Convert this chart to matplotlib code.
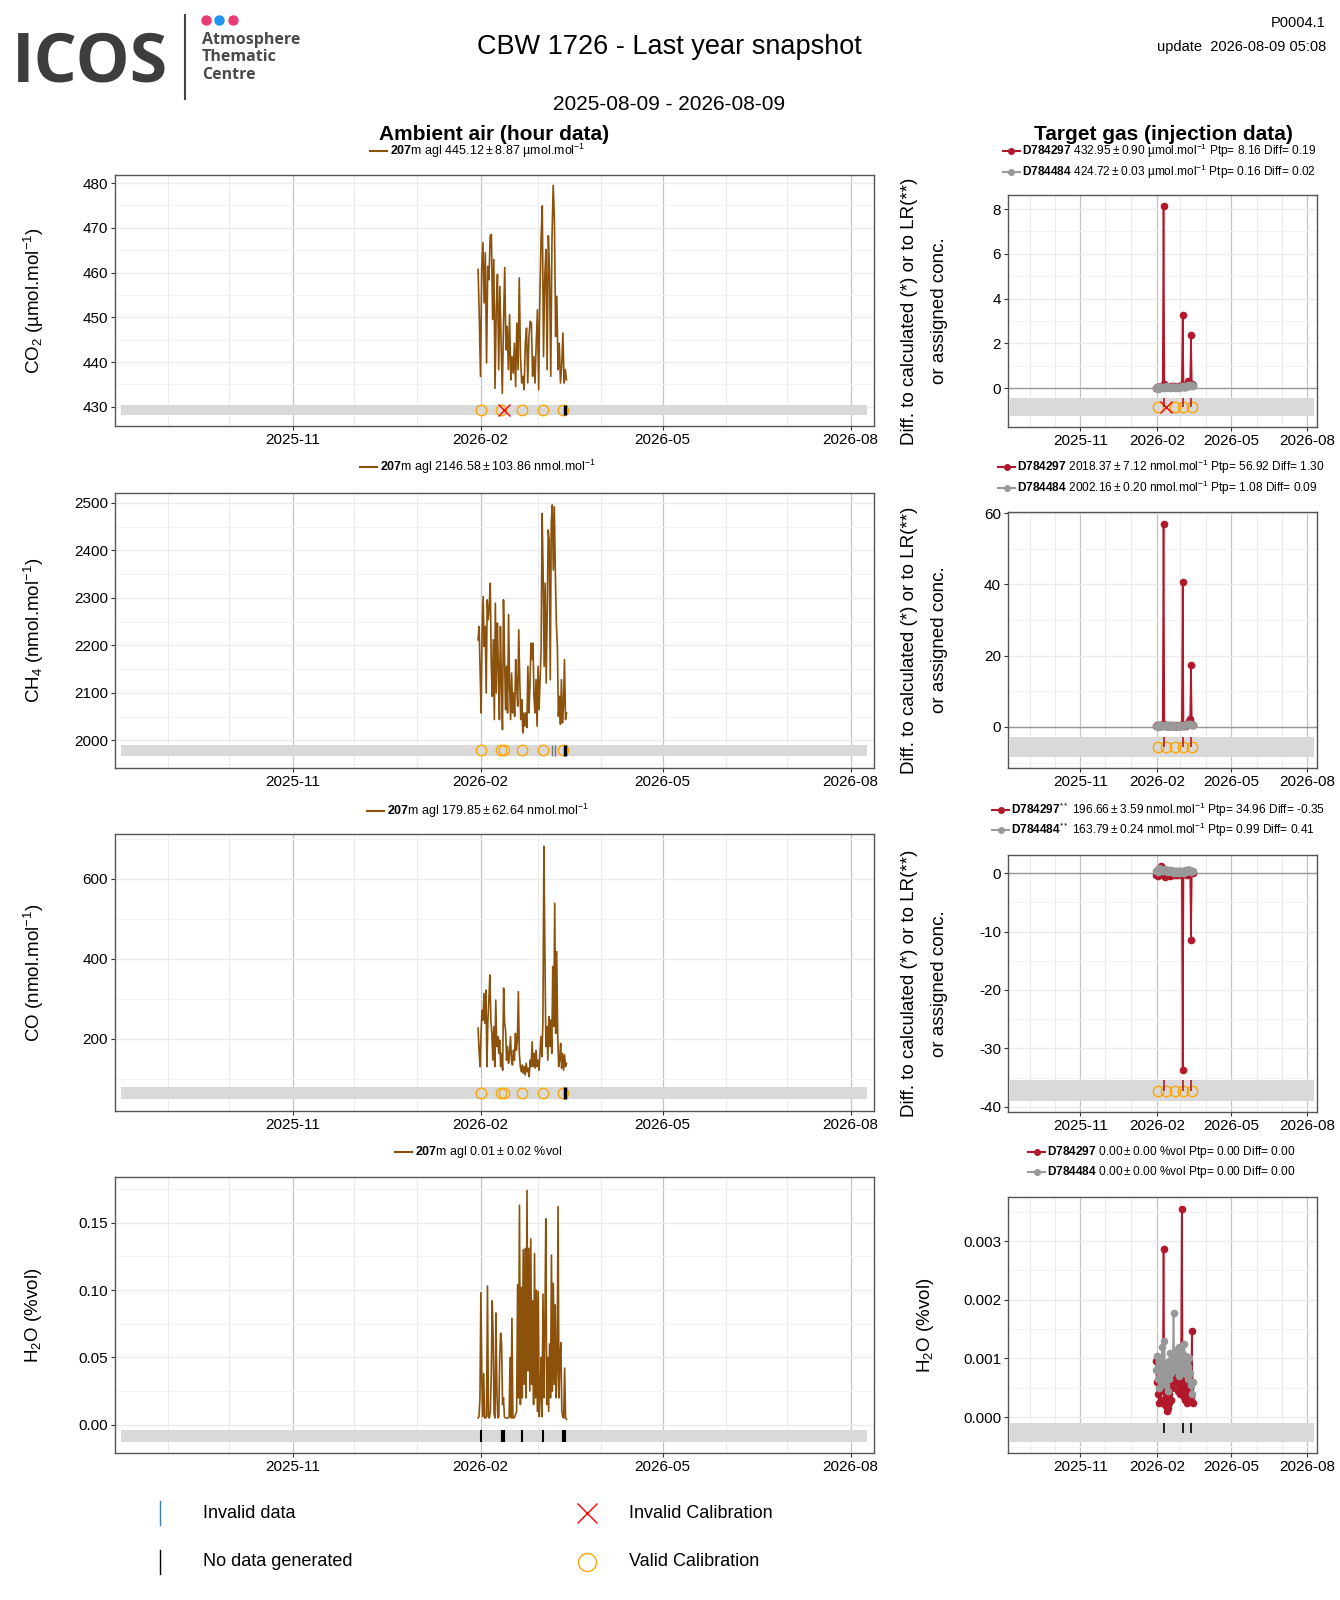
import matplotlib
matplotlib.use("Agg")
import matplotlib.pyplot as plt
import matplotlib.dates as mdates
from matplotlib.lines import Line2D
from matplotlib.ticker import AutoMinorLocator, FormatStrFormatter, MultipleLocator
import numpy as np
import pandas as pd

W, H = 1340, 1600

plt.rcParams['font.family'] = ['Liberation Sans', 'DejaVu Sans']
plt.rcParams['mathtext.fontset'] = 'custom'
plt.rcParams['mathtext.rm'] = 'Liberation Sans'
plt.rcParams['mathtext.it'] = 'Liberation Sans:italic'
plt.rcParams['mathtext.bf'] = 'Liberation Sans:bold'
plt.rcParams['mathtext.default'] = 'regular'
plt.rcParams['axes.unicode_minus'] = False

# ---------------- ambient air, hour data ----------------
amb_start = "2026-01-30 17:00"
amb_end = "2026-03-15 00:00"

co2_vals = [460.7, 450.2, 436.8, 460.7, 466.7, 453.2, 464.4, 439.8, 461.4, 458.4,
            468.2, 468.5, 449.5, 462.9, 434.1, 451.7, 459.6, 438.3, 456.9, 444.3,
            433.0, 448.7, 461.1, 442.7, 448.0, 438.3, 450.6, 436.0, 441.2, 437.5,
            444.2, 434.5, 448.7, 438.3, 458.8, 441.2, 435.3, 436.8, 433.8, 444.2,
            447.6, 435.3, 445.7, 449.1, 448.7, 436.8, 441.2, 435.3, 444.2, 451.7,
            433.8, 454.7, 467.4, 474.9, 441.2, 458.4, 465.2, 438.3, 468.2, 460.0,
            436.8, 467.4, 479.5, 471.9, 445.7, 454.7, 438.3, 444.2, 435.3, 439.0,
            446.5, 435.3, 438.3, 436.0]

ch4_vals = [2212, 2240, 2149, 2058, 2233, 2303, 2198, 2240, 2100, 2296,
            2254, 2282, 2331, 2156, 2093, 2212, 2044, 2289, 2100, 2247,
            2156, 2044, 2240, 2121, 2023, 2296, 2184, 2065, 2156, 2058,
            2265, 2114, 2044, 2142, 2058, 2100, 2051, 2170, 2114, 2072,
            2233, 2128, 2044, 2086, 2016, 2058, 2030, 2058, 2027, 2156,
            2058, 2114, 2205, 2170, 2205, 2093, 2058, 2128, 2030, 2156,
            2065, 2128, 2191, 2478, 2352, 2156, 2331, 2121, 2268, 2443,
            2422, 2128, 2457, 2496, 2359, 2492, 2352, 2247, 2198, 2051,
            2093, 2034, 2128, 2037, 2072, 2170, 2044, 2058]

co_vals = [227, 172, 131, 214, 272, 247, 314, 239, 322, 131,
           247, 297, 360, 247, 214, 147, 231, 131, 297, 181,
           206, 164, 197, 131, 164, 122, 327, 239, 222, 147,
           181, 139, 164, 206, 147, 135, 172, 147, 214, 172,
           197, 318, 164, 131, 118, 135, 114, 131, 110, 139,
           118, 127, 106, 147, 131, 193, 131, 164, 127, 172,
           131, 147, 122, 164, 206, 156, 247, 681, 414, 181,
           231, 147, 256, 181, 247, 164, 381, 231, 539, 214,
           418, 214, 131, 147, 189, 127, 164, 122, 160, 131, 139]

h2o_vals = [0.005, 0.006, 0.020, 0.098, 0.035, 0.006, 0.038, 0.005, 0.005, 0.006,
            0.103, 0.006, 0.005, 0.010, 0.036, 0.092, 0.067, 0.008, 0.005, 0.083,
            0.025, 0.005, 0.006, 0.050, 0.068, 0.060, 0.015, 0.020, 0.006, 0.005,
            0.005, 0.005, 0.005, 0.006, 0.050, 0.005, 0.079, 0.005, 0.005, 0.006,
            0.008, 0.010, 0.104, 0.020, 0.163, 0.015, 0.102, 0.020, 0.130, 0.030,
            0.131, 0.020, 0.174, 0.040, 0.131, 0.025, 0.138, 0.030, 0.092, 0.015,
            0.127, 0.020, 0.100, 0.010, 0.099, 0.006, 0.020, 0.050, 0.006, 0.097,
            0.020, 0.075, 0.153, 0.015, 0.050, 0.010, 0.060, 0.020, 0.126, 0.025,
            0.105, 0.030, 0.089, 0.020, 0.040, 0.162, 0.020, 0.050, 0.061, 0.010,
            0.006, 0.005, 0.042, 0.005, 0.004]

# calibrations and gaps shown in the bottom strip of each panel
cal_times = ["2026-02-01 03:00", "2026-02-11 00:00", "2026-02-12 08:00",
             "2026-02-21 05:00", "2026-03-03 10:00", "2026-03-13 05:00"]
co2_cal_bad = ["2026-02-12 08:00"]
nodata_end = ["2026-03-14 06:00"]
ch4_invalid = ["2026-03-08 00:00", "2026-03-09 03:00"]
h2o_nodata = ["2026-02-01 03:00", "2026-02-11 20:00", "2026-02-21 00:00",
              "2026-03-03 10:00", "2026-03-14 00:00"]
h2o_nodata_hours = [4, 30, 4, 4, 30]

# ---------------- target gas injections ----------------
tg_start = "2026-01-31"
tg_end = "2026-03-16"

co2_red = [0.02, 0.05, 0.03, 0.06, 0.04, 0.02, 0.05, 0.07, 0.04, 8.16,
           0.18, 0.12, 0.08, 0.05, 0.06, 0.04, 0.07, 0.09, 0.06, 0.05,
           0.10, 0.08, 0.06, 0.05, 0.07, 0.04, 0.06, 0.05, 0.08, 0.06,
           0.09, 0.12, 3.25, 0.10, 0.07, 0.09, 0.12, 0.15, 0.28, 0.32,
           0.22, 0.15, 2.35, 0.18, 0.12]
co2_grey = [0.01, 0.03, -0.02, 0.04, 0.02, 0.00, 0.05, 0.03, 0.01, 0.04,
            0.06, 0.02, 0.05, 0.08, 0.04, 0.03, 0.06, 0.02, 0.05, 0.07,
            0.03, 0.04, 0.06, 0.02, 0.05, 0.03, 0.07, 0.04, 0.02, 0.06,
            0.05, 0.08, 0.04, 0.06, 0.09, 0.05, 0.07, 0.10, 0.12, 0.08,
            0.11, 0.14, 0.09, 0.12, 0.10]
ch4_red = [0.3, 0.5, 0.2, 0.6, 0.4, 0.3, 0.7, 0.5, 0.4, 56.9,
           0.9, 0.5, 0.3, 0.4, 0.2, 0.5, 0.3, 0.4, 0.6, 0.3,
           0.2, 0.4, 0.3, 0.5, 0.2, 0.3, 0.4, 0.2, 0.5, 0.3,
           0.6, 0.4, 40.6, 0.5, 0.3, 0.6, 0.4, 0.5, 0.8, 1.2,
           1.6, 2.3, 17.4, 0.9, 0.6]
ch4_grey = [0.2, 0.4, 0.1, 0.5, 0.3, 0.6, 0.2, 0.4, 0.3, 0.5,
            0.7, 0.3, 0.4, 0.2, 0.5, 0.3, 0.6, 0.4, 0.2, 0.3,
            0.5, 0.4, 0.2, 0.3, 0.1, 0.4, 0.3, 0.2, 0.5, 0.3,
            0.4, 0.6, 0.3, 0.5, 0.4, 0.7, 0.5, 0.6, 0.8, 0.7,
            0.9, 0.8, 0.6, 0.7, 0.5]
co_red = [-0.3, 0.2, -0.5, 0.4, 0.1, 0.6, 1.3, 0.8, 0.3, -0.4,
          0.2, -0.6, 0.1, -0.3, 0.4, -0.2, 0.3, -0.5, 0.2, -0.4,
          0.1, -0.3, -0.2, 0.2, -0.4, 0.1, -0.3, 0.3, -0.2, 0.1,
          -0.4, 0.2, -33.7, 0.3, -0.2, 0.4, 0.1, -0.3, 0.5, 0.2,
          0.6, 0.3, -11.5, 0.2, 0.1]
co_grey = [0.3, 0.6, 0.2, 0.8, 0.5, 0.4, 0.7, 0.3, 0.6, 0.5,
           0.4, 0.7, 0.3, 0.5, 0.2, 0.4, 0.6, 0.3, 0.5, 0.2,
           0.4, 0.3, 0.1, 0.3, 0.2, 0.4, 0.1, 0.3, 0.2, 0.1,
           0.3, 0.2, 0.4, 0.1, 0.3, 0.2, 0.5, 0.3, 0.4, 0.6,
           0.3, 0.5, 0.2, 0.4, 0.3]
h2o_red = np.array([0.95, 0.60, 0.40, 0.75, 0.25, 0.55, 0.30, 0.80, 0.45, 2.86,
                    0.50, 0.20, 0.35, 0.10, 0.15, 0.40, 0.25, 0.60, 0.30, 0.50,
                    0.85, 0.70, 0.95, 1.05, 0.60, 0.80, 0.45, 0.70, 0.55, 0.40,
                    0.65, 3.54, 0.60, 0.35, 0.50, 0.30, 0.45, 0.25, 0.55, 0.40,
                    0.70, 0.50, 0.35, 1.47, 0.25]) * 1e-3
h2o_grey = np.array([0.80, 1.05, 0.65, 0.95, 0.50, 0.85, 0.60, 1.20, 0.75, 0.90,
                     1.30, 0.70, 0.55, 0.85, 0.45, 0.65, 0.95, 1.10, 0.75, 1.00,
                     0.85, 1.78, 0.90, 1.05, 0.80, 1.15, 0.95, 0.70, 1.20, 0.85,
                     1.00, 1.10, 0.75, 0.95, 1.25, 0.80, 1.05, 0.90, 0.65, 0.85,
                     1.00, 0.75, 0.55, 0.40, 0.60]) * 1e-3

tg_cal_times = ["2026-02-02 00:00", "2026-02-12 12:00", "2026-02-22 12:00",
                "2026-03-04 12:00", "2026-03-15 00:00"]
tg_cal_bad = ["2026-02-12 12:00"]
tg_nodata = ["2026-02-09 00:00", "2026-03-04 00:00", "2026-03-14 00:00"]

band_span = ["2025-08-09", "2026-08-09"]
x_span = ["2025-08-06", "2026-08-12 12:00"]

# ---------------- texts ----------------
PM = "\u2009±\u2009"
left_ylabels = [r"CO$_2$ (µmol.mol$^{-1}$)", r"CH$_4$ (nmol.mol$^{-1}$)",
                r"CO (nmol.mol$^{-1}$)", r"H$_2$O (%vol)"]
left_legends = [r"$\mathbf{207}$m agl 445.12" + PM + r"8.87 µmol.mol$^{-1}$",
                r"$\mathbf{207}$m agl 2146.58" + PM + r"103.86 nmol.mol$^{-1}$",
                r"$\mathbf{207}$m agl 179.85" + PM + r"62.64 nmol.mol$^{-1}$",
                r"$\mathbf{207}$m agl 0.01" + PM + r"0.02 %vol"]
right_legends = [
    (r"$\mathbf{D784297}$ 432.95" + PM + r"0.90 µmol.mol$^{-1}$ Ptp= 8.16 Diff= 0.19",
     r"$\mathbf{D784484}$ 424.72" + PM + r"0.03 µmol.mol$^{-1}$ Ptp= 0.16 Diff= 0.02"),
    (r"$\mathbf{D784297}$ 2018.37" + PM + r"7.12 nmol.mol$^{-1}$ Ptp= 56.92 Diff= 1.30",
     r"$\mathbf{D784484}$ 2002.16" + PM + r"0.20 nmol.mol$^{-1}$ Ptp= 1.08 Diff= 0.09"),
    (r"$\mathbf{D784297}^{**}$ 196.66" + PM + r"3.59 nmol.mol$^{-1}$ Ptp= 34.96 Diff= -0.35",
     r"$\mathbf{D784484}^{**}$ 163.79" + PM + r"0.24 nmol.mol$^{-1}$ Ptp= 0.99 Diff= 0.41"),
    (r"$\mathbf{D784297}$ 0.00" + PM + r"0.00 %vol Ptp= 0.00 Diff= 0.00",
     r"$\mathbf{D784484}$ 0.00" + PM + r"0.00 %vol Ptp= 0.00 Diff= 0.00"),
]

BROWN = '#8c510a'
RED = '#b2182b'
GREY = '#999999'
BAND = '#d9d9d9'
ORANGE = '#ffa500'

fig = plt.figure(figsize=(W / 100, H / 100), dpi=100)


def fx(x):
    return x / W


def fy(y):
    return 1 - y / H


def add_ax(x0, y0, x1, y1):
    return fig.add_axes([fx(x0), fy(y1), (x1 - x0) / W, (y1 - y0) / H])


def style(ax, ylim, ystep, fmt=None):
    ax.set_xlim(mdates.datestr2num(x_span))
    ax.set_ylim(ylim)
    ax.xaxis.set_major_locator(mdates.MonthLocator(bymonth=[2, 5, 8, 11]))
    ax.xaxis.set_minor_locator(mdates.MonthLocator())
    ax.xaxis.set_major_formatter(mdates.DateFormatter('%Y-%m'))
    ax.yaxis.set_major_locator(MultipleLocator(ystep))
    ax.yaxis.set_minor_locator(AutoMinorLocator(2))
    if fmt:
        ax.yaxis.set_major_formatter(FormatStrFormatter(fmt))
    ax.grid(which='major', axis='x', color='#c4c4c4', lw=0.9)
    ax.grid(which='minor', axis='x', color='#ebebeb', lw=0.7)
    ax.grid(which='major', axis='y', color='#ebebeb', lw=1.0)
    ax.grid(which='minor', axis='y', color='#f3f3f3', lw=0.7)
    ax.set_axisbelow(True)
    for s in ax.spines.values():
        s.set_color('#555555')
        s.set_linewidth(1.0)
    ax.tick_params(which='major', length=3, width=0.8, color='#333333',
                   labelsize=11, labelcolor='black', pad=2)
    ax.tick_params(which='minor', length=0)


def strip(ax, lo, hi):
    ax.fill_between(mdates.datestr2num(band_span), lo, hi, color=BAND, lw=0, zorder=1)


def circles(ax, times, y):
    t = mdates.datestr2num(times)
    ax.plot(t, [y] * len(t), 'o', mfc='none', mec=ORANGE, ms=7.5, mew=1.0, zorder=4)


def crosses(ax, times, y):
    t = mdates.datestr2num(times)
    ax.plot(t, [y] * len(t), 'x', color='red', ms=8, mew=1.0, zorder=5)


# ---------------- left: ambient air ----------------
left_rows = [(175, 426), (493, 768), (834, 1111), (1177, 1453)]
left_series = [co2_vals, ch4_vals, co_vals, h2o_vals]
left_ylim = [(425.7, 481.8), (1942, 2521), (20, 712), (-0.021, 0.184)]
left_step = [10, 100, 200, 0.05]
left_fmt = [None, None, None, '%.2f']
left_band = [(428.2, 430.4), (1968, 1990), (50, 80), (-0.0126, -0.0037)]
left_leg = [(370, 151), (360, 467), (367, 811), (395, 1152)]

for i, (y0, y1) in enumerate(left_rows):
    ax = add_ax(115, y0, 874, y1)
    style(ax, left_ylim[i], left_step[i], left_fmt[i])
    vals = left_series[i]
    t = mdates.date2num(pd.date_range(amb_start, amb_end, periods=len(vals)).to_pydatetime())
    ax.plot(t, vals, color=BROWN, lw=1.2, zorder=3)
    lo, hi = left_band[i]
    strip(ax, lo, hi)
    mid = (lo + hi) / 2
    if i < 3:
        ok = [c for c in cal_times if not (i == 0 and c in co2_cal_bad)]
        circles(ax, ok, mid)
        if i == 0:
            crosses(ax, co2_cal_bad, mid)
        ax.vlines(mdates.datestr2num(nodata_end), lo, hi, color='black', lw=2.5, zorder=5)
        if i == 1:
            ax.vlines(mdates.datestr2num(ch4_invalid), lo, hi, color='#777777', lw=1.0, zorder=5)
    else:
        for tt, hrs in zip(mdates.datestr2num(h2o_nodata), h2o_nodata_hours):
            ax.vlines(tt, lo, hi, color='black', lw=1.5 if hrs < 12 else 3.0, zorder=5)
    fig.text(fx(34), fy((y0 + y1) / 2), left_ylabels[i], rotation=90,
             ha='center', va='center', fontsize=13.5)
    lx, ly = left_leg[i]
    fig.add_artist(Line2D([fx(lx), fx(lx + 17)], [fy(ly), fy(ly)], color=BROWN, lw=1.5))
    fig.text(fx(lx + 20), fy(ly), left_legends[i], fontsize=9, ha='left', va='center')

# ---------------- right: target gas ----------------
right_rows = [(195, 427), (512, 768), (855, 1112), (1197, 1453)]
right_red = [co2_red, ch4_red, co_red, h2o_red]
right_grey = [co2_grey, ch4_grey, co_grey, h2o_grey]
right_ylim = [(-1.74, 8.63), (-11.5, 60.3), (-40.9, 3.1), (-0.00061, 0.00375)]
right_step = [2, 20, 10, 0.001]
right_fmt = [None, None, None, '%.3f']
right_band = [(-1.25, -0.45), (-8.4, -2.8), (-39.1, -35.5), (-0.00043, -0.0001)]
right_leg = [(1003, 151, 172), (998, 467, 488), (992, 810, 830), (1028, 1152, 1172)]

tg_t = mdates.date2num(pd.date_range(tg_start, tg_end, periods=len(co2_red)).to_pydatetime())

for i, (y0, y1) in enumerate(right_rows):
    ax = add_ax(1008, y0, 1317, y1)
    style(ax, right_ylim[i], right_step[i], right_fmt[i])
    lo, hi = right_band[i]
    strip(ax, lo, hi)
    mid = (lo + hi) / 2
    if i < 3:
        ax.axhline(0, color='#9a9a9a', lw=1.0, zorder=2)
    ax.plot(tg_t, right_red[i], '-o', color=RED, lw=1.2, ms=4.5, zorder=3)
    ax.plot(tg_t, right_grey[i], '-o', color=GREY, lw=1.2, ms=4.5, zorder=3.5)
    if i < 3:
        ok = [c for c in tg_cal_times if not (i == 0 and c in tg_cal_bad)]
        circles(ax, ok, mid)
        if i == 0:
            crosses(ax, tg_cal_bad, mid)
        ax.vlines(mdates.datestr2num(tg_nodata), mid, hi, color=RED, lw=1.2, zorder=5)
        yc = (y0 + y1) / 2
        fig.text(fx(910), fy(yc), "Diff. to calculated (*) or to LR(**)", rotation=90,
                 ha='center', va='center', fontsize=13.5)
        fig.text(fx(940), fy(yc), "or assigned conc.", rotation=90,
                 ha='center', va='center', fontsize=13.5)
    else:
        ax.vlines(mdates.datestr2num(tg_nodata), mid, hi, color='black', lw=1.2, zorder=5)
        fig.text(fx(925), fy((y0 + y1) / 2), r"H$_2$O (%vol)", rotation=90,
                 ha='center', va='center', fontsize=13.5)
    lx, ly1, ly2 = right_leg[i]
    for col, ly, txt in [(RED, ly1, right_legends[i][0]), (GREY, ly2, right_legends[i][1])]:
        fig.add_artist(Line2D([fx(lx), fx(lx + 17)], [fy(ly), fy(ly)], color=col, lw=1.5))
        fig.add_artist(Line2D([fx(lx + 8.5)], [fy(ly)], color=col, marker='o', ms=4))
        fig.text(fx(lx + 19), fy(ly), txt, fontsize=8.6, ha='left', va='center')

# ---------------- titles ----------------
fig.text(fx(669), fy(47), "CBW 1726 - Last year snapshot", ha='center', va='center', fontsize=19.5)
fig.text(fx(669), fy(105), "2025-08-09 - 2026-08-09", ha='center', va='center', fontsize=15)
fig.text(fx(494), fy(134), "Ambient air (hour data)", ha='center', va='center',
         fontsize=15, fontweight='bold')
fig.text(fx(1163), fy(134), "Target gas (injection data)", ha='center', va='center',
         fontsize=15, fontweight='bold')
fig.text(fx(1325), fy(23), "P0004.1", ha='right', va='center', fontsize=10.5)
fig.text(fx(1326), fy(47), "update  2026-08-09 05:08", ha='right', va='center', fontsize=10.5)

# ---------------- logo ----------------
fig.text(fx(12), fy(82), "ICOS", ha='left', va='baseline', fontsize=49,
         fontweight='bold', family=['Open Sans', 'DejaVu Sans'], color='#3d3d3d')
fig.add_artist(Line2D([fx(185), fx(185)], [fy(15), fy(99)], color='#444444', lw=1.5))
for x, c in [(206, '#e63b73'), (219, '#1e94ee'), (233, '#e63b73')]:
    fig.add_artist(Line2D([fx(x)], [fy(20)], marker='o', ms=6.5, color=c, lw=0))
for y, s in [(40, "Atmosphere"), (57, "Thematic"), (75, "Centre")]:
    fig.text(fx(202), fy(y), s, ha='left', va='center', fontsize=11.5, fontweight='bold',
             family=['Open Sans', 'DejaVu Sans'], color='#4a4a4a')

# ---------------- bottom legend ----------------
fig.add_artist(Line2D([fx(160), fx(160)], [fy(1501), fy(1525)], color='#377eb8', lw=1.0))
fig.add_artist(Line2D([fx(160), fx(160)], [fy(1550), fy(1574)], color='black', lw=1.0))
fig.add_artist(Line2D([fx(587)], [fy(1513)], marker='x', ms=14, mew=1.0, color='red', lw=0))
fig.add_artist(Line2D([fx(587)], [fy(1562)], marker='o', ms=13, mew=1.0, mfc='none',
                      mec=ORANGE, lw=0))
fig.text(fx(203), fy(1513), "Invalid data", ha='left', va='center', fontsize=13)
fig.text(fx(203), fy(1562), "No data generated", ha='left', va='center', fontsize=13)
fig.text(fx(629), fy(1513), "Invalid Calibration", ha='left', va='center', fontsize=13)
fig.text(fx(629), fy(1562), "Valid Calibration", ha='left', va='center', fontsize=13)

fig.savefig("out.png", dpi=100)
